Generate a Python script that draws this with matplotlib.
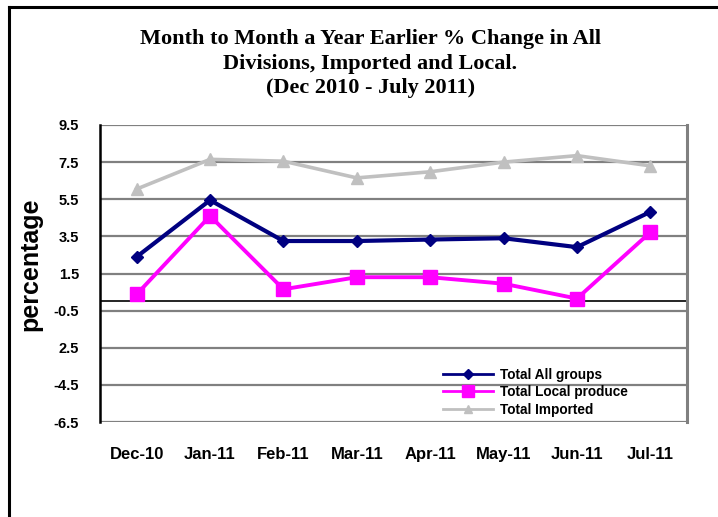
import numpy as np
import matplotlib.pyplot as plt
from matplotlib.lines import Line2D

months = ['Dec-10', 'Jan-11', 'Feb-11', 'Mar-11', 'Apr-11', 'May-11', 'Jun-11', 'Jul-11']
all_groups = [2.4, 5.45, 3.25, 3.25, 3.33, 3.4, 2.92, 4.82]
local_produce = [0.38, 4.6, 0.65, 1.3, 1.3, 0.95, 0.15, 3.72]
imported = [6.05, 7.65, 7.55, 6.65, 6.98, 7.5, 7.85, 7.3]
ytick_vals = [9.5, 7.5, 5.5, 3.5, 1.5, -0.5, -2.5, -4.5, -6.5]
ytick_labels = ['9.5', '7.5', '5.5', '3.5', '1.5', '-0.5', '2.5', '-4.5', '-6.5']

title = ("Month to Month a Year Earlier % Change in All\n"
         "Divisions, Imported and Local.\n"
         "(Dec 2010 - July 2011)")

fig = plt.figure(figsize=(7.18, 5.17), dpi=100)
ax = fig.add_axes([100 / 718, 1 - 422 / 517, 587 / 718, 297 / 517])

x = np.arange(len(months))
ax.set_xlim(-0.5, len(months) - 0.5)
ax.set_ylim(-6.5, 9.5)

for v in ytick_vals:
    ax.axhline(v, color='#808080', lw=1.6, zorder=1)
ax.axhline(0, color='black', lw=1.2, zorder=2)

ax.plot(x, imported, color='#C0C0C0', lw=2.6, marker='^', ms=8, label='Total Imported', zorder=3)
ax.plot(x, local_produce, color='#FF00FF', lw=2.8, marker='s', ms=10, label='Total Local produce', zorder=4)
ax.plot(x, all_groups, color='#000080', lw=3, marker='D', ms=6, label='Total All groups', zorder=5)

ax.set_xticks(x)
ax.set_xticklabels(months, fontsize=12, fontweight='bold', family='Liberation Sans')
ax.set_yticks(ytick_vals)
ax.set_yticklabels(ytick_labels, fontsize=10.5, fontweight='bold', family='Liberation Sans')
ax.tick_params(length=0, pad=15)
ax.tick_params(axis='x', pad=18)

for side in ['top', 'bottom']:
    ax.spines[side].set_visible(False)
ax.spines['right'].set_color('#808080')
ax.spines['right'].set_linewidth(2.2)
ax.spines['left'].set_color('black')
ax.spines['left'].set_linewidth(1.8)

ax.set_ylabel('percentage', fontsize=18, fontweight='bold', family='Liberation Sans')
ax.yaxis.set_label_coords(-0.098, 0.53)

handles, labels = ax.get_legend_handles_labels()
order = [2, 1, 0]
leg = ax.legend([handles[i] for i in order], [labels[i] for i in order],
                loc='upper left', bbox_to_anchor=(436 / 718, 1 - 361 / 517),
                bbox_transform=fig.transFigure, frameon=False, borderpad=0,
                handlelength=3.7, handletextpad=0.5, labelspacing=0.25,
                prop={'family': 'Liberation Sans', 'weight': 'bold', 'size': 9.8})
for h in leg.legend_handles:
    h.set_markersize(h.get_markersize() * 0.8)
    h.set_linewidth(2)

fig.text(0.516, 1 - 29 / 517, title, ha='center', va='top', fontsize=16,
         fontweight='bold', family='Liberation Serif', linespacing=1.3)

fig.add_artist(Line2D([8.5 / 718, 1], [1 - 6.5 / 517, 1 - 6.5 / 517], color='black', lw=2.2, transform=fig.transFigure))
fig.add_artist(Line2D([8.5 / 718, 8.5 / 718], [0, 1 - 6.5 / 517], color='black', lw=2.2, transform=fig.transFigure))

fig.savefig('out.png', dpi=100)
